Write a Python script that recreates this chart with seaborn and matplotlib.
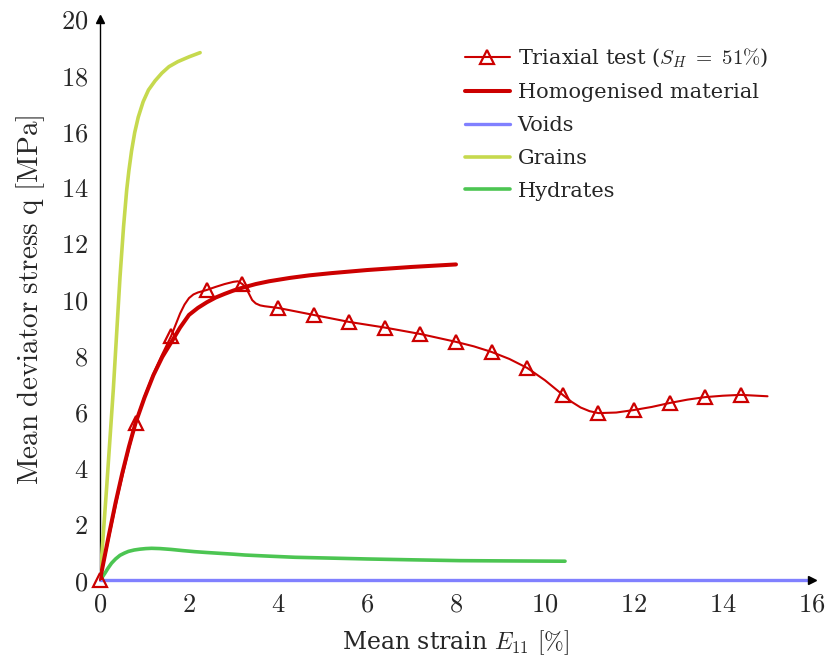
import numpy as np
import pandas as pd
import matplotlib
matplotlib.use("Agg")
import matplotlib.pyplot as plt
import seaborn as sns

# ---- data ----
triax_x = [0, 0.2, 0.4, 0.6, 0.8, 1.0, 1.2, 1.4, 1.6, 1.7, 1.8, 1.9, 2.0, 2.1, 2.2, 2.4,
           2.6, 2.8, 3.0, 3.1, 3.2, 3.28, 3.35, 3.42, 3.5, 3.6, 3.7,
           4.0, 4.8, 5.6, 6.4, 7.2, 8.0, 8.4, 8.8, 9.2, 9.6, 10.0, 10.4, 10.6, 10.8,
           11.0, 11.2, 11.6, 12.0, 12.4, 12.8, 13.2, 13.6, 14.0, 14.4, 15.0]
triax_y = [0, 1.5, 3.0, 4.35, 5.6, 6.55, 7.35, 8.05, 8.7, 9.1, 9.5, 9.82, 10.05, 10.18, 10.25, 10.34,
           10.45, 10.55, 10.63, 10.65, 10.55, 10.42, 10.2, 9.98, 9.86, 9.79, 9.76,
           9.7, 9.45, 9.2, 9.0, 8.77, 8.49, 8.33, 8.13, 7.88, 7.56, 7.12, 6.6, 6.35, 6.15,
           6.02, 5.95, 5.97, 6.06, 6.17, 6.31, 6.43, 6.52, 6.57, 6.6, 6.55]
triax_marked = [1, 0, 0, 0, 1, 0, 0, 0, 1, 0, 0, 0, 0, 0, 0, 1,
                0, 0, 0, 0, 1, 0, 0, 0, 0, 0, 0,
                1, 1, 1, 1, 1, 1, 0, 1, 0, 1, 0, 1, 0, 0,
                0, 1, 0, 1, 0, 1, 0, 1, 0, 1, 0]

homog_x = [0, 0.1, 0.2, 0.35, 0.5, 0.65, 0.8, 1.0, 1.2, 1.4, 1.65, 1.8, 2.0, 2.2, 2.4, 2.6,
           2.8, 3.0, 3.2, 3.5, 3.8, 4.27, 4.7, 5.2, 6.0, 7.0, 8.0]
homog_y = [0, 0.8, 1.6, 2.75, 3.8, 4.75, 5.6, 6.5, 7.3, 7.95, 8.6, 9.0, 9.45, 9.7, 9.9, 10.07,
           10.2, 10.32, 10.42, 10.55, 10.65, 10.77, 10.86, 10.94, 11.05, 11.16, 11.25]

voids_x = [0, 15.9]
voids_y = [0, 0]

grains_x = [0, 0.15, 0.3, 0.45, 0.53, 0.6, 0.65, 0.71, 0.78, 0.86, 0.97, 1.09, 1.24, 1.39,
            1.55, 1.75, 2.0, 2.25]
grains_y = [0, 3.3, 6.8, 10.8, 12.6, 13.9, 14.6, 15.3, 15.95, 16.5, 17.05, 17.47, 17.8, 18.07,
            18.3, 18.48, 18.65, 18.8]

hydr_x = [0, 0.05, 0.11, 0.18, 0.26, 0.35, 0.45, 0.55, 0.64, 0.77, 0.9, 1.03, 1.16, 1.35, 1.6,
          1.85, 2.13, 2.4, 2.7, 3.0, 3.26, 3.8, 4.38, 5.2, 6.0, 7.0, 8.09, 9.2, 10.45]
hydr_y = [0, 0.1, 0.24, 0.42, 0.6, 0.75, 0.88, 0.96, 1.02, 1.07, 1.1, 1.12, 1.13, 1.12, 1.09,
          1.05, 1.01, 0.98, 0.95, 0.92, 0.89, 0.85, 0.81, 0.78, 0.75, 0.72, 0.69, 0.68, 0.67]

x_ticks = [0, 2, 4, 6, 8, 10, 12, 14, 16]
y_ticks = [0, 2, 4, 6, 8, 10, 12, 14, 16, 18, 20]

labels = [r"Triaxial test ($S_H\ =\ 51\%$)", "Homogenised material", "Voids", "Grains", "Hydrates"]

# ---- style ----
sns.set_style("white")
plt.rcParams["font.family"] = ["DejaVu Serif"]
plt.rcParams["mathtext.fontset"] = "cm"

fig = plt.figure(figsize=(8.29, 6.64), dpi=100)
ax = fig.add_axes([0.1206, 0.1265, 0.8589, 0.8449])

red = "#cc0000"
mark_idx = [i for i, m in enumerate(triax_marked) if m]

df_t = pd.DataFrame({"x": triax_x, "y": triax_y})
sns.lineplot(data=df_t, x="x", y="y", ax=ax, sort=False, estimator=None, color=red,
             lw=1.5, marker="^", markevery=mark_idx, markersize=10, mfc="none",
             mec=red, mew=1.6, label=labels[0], zorder=5, clip_on=False)
sns.lineplot(x=homog_x, y=homog_y, ax=ax, sort=False, estimator=None, color=red,
             lw=2.9, label=labels[1], zorder=4)
sns.lineplot(x=voids_x, y=voids_y, ax=ax, sort=False, estimator=None, color="#8080ff",
             lw=2.4, label=labels[2], zorder=3, clip_on=False)
sns.lineplot(x=grains_x, y=grains_y, ax=ax, sort=False, estimator=None, color="#c6d94e",
             lw=2.6, label=labels[3], zorder=3)
sns.lineplot(x=hydr_x, y=hydr_y, ax=ax, sort=False, estimator=None, color="#4cc552",
             lw=2.6, label=labels[4], zorder=3)

ax.set_xlim(0, 16)
ax.set_ylim(0, 20)
ax.set_xticks(x_ticks)
ax.set_yticks(y_ticks)
ax.set_xticklabels([f"${v}$" for v in x_ticks], fontsize=19)
ax.set_yticklabels([f"${v}$" for v in y_ticks], fontsize=19)
ax.tick_params(direction="inout", length=9, width=1, color="#888888", pad=4)

for s in ["top", "right"]:
    ax.spines[s].set_visible(False)
for s in ["left", "bottom"]:
    ax.spines[s].set_color("black")
    ax.spines[s].set_linewidth(1.0)

ax.plot(1, 0, marker=">", color="black", markersize=6, transform=ax.transAxes, clip_on=False, zorder=6)
ax.plot(0, 1, marker="^", color="black", markersize=6, transform=ax.transAxes, clip_on=False, zorder=6)

ax.set_xlabel(r"Mean strain $E_{11}$ $[\%]$", fontsize=17, labelpad=8)
ax.set_ylabel(r"$\mathrm{Mean\ deviator\ stress\ q\ [MPa]}$", fontsize=21, labelpad=10)

ax.legend(loc="upper left", bbox_to_anchor=(0.5126, 0.951), frameon=False, fontsize=15,
          handlelength=2.15, handletextpad=0.38, labelspacing=0.66, borderpad=0, borderaxespad=0)
ax.grid(False)

fig.savefig("out.png", dpi=100)
